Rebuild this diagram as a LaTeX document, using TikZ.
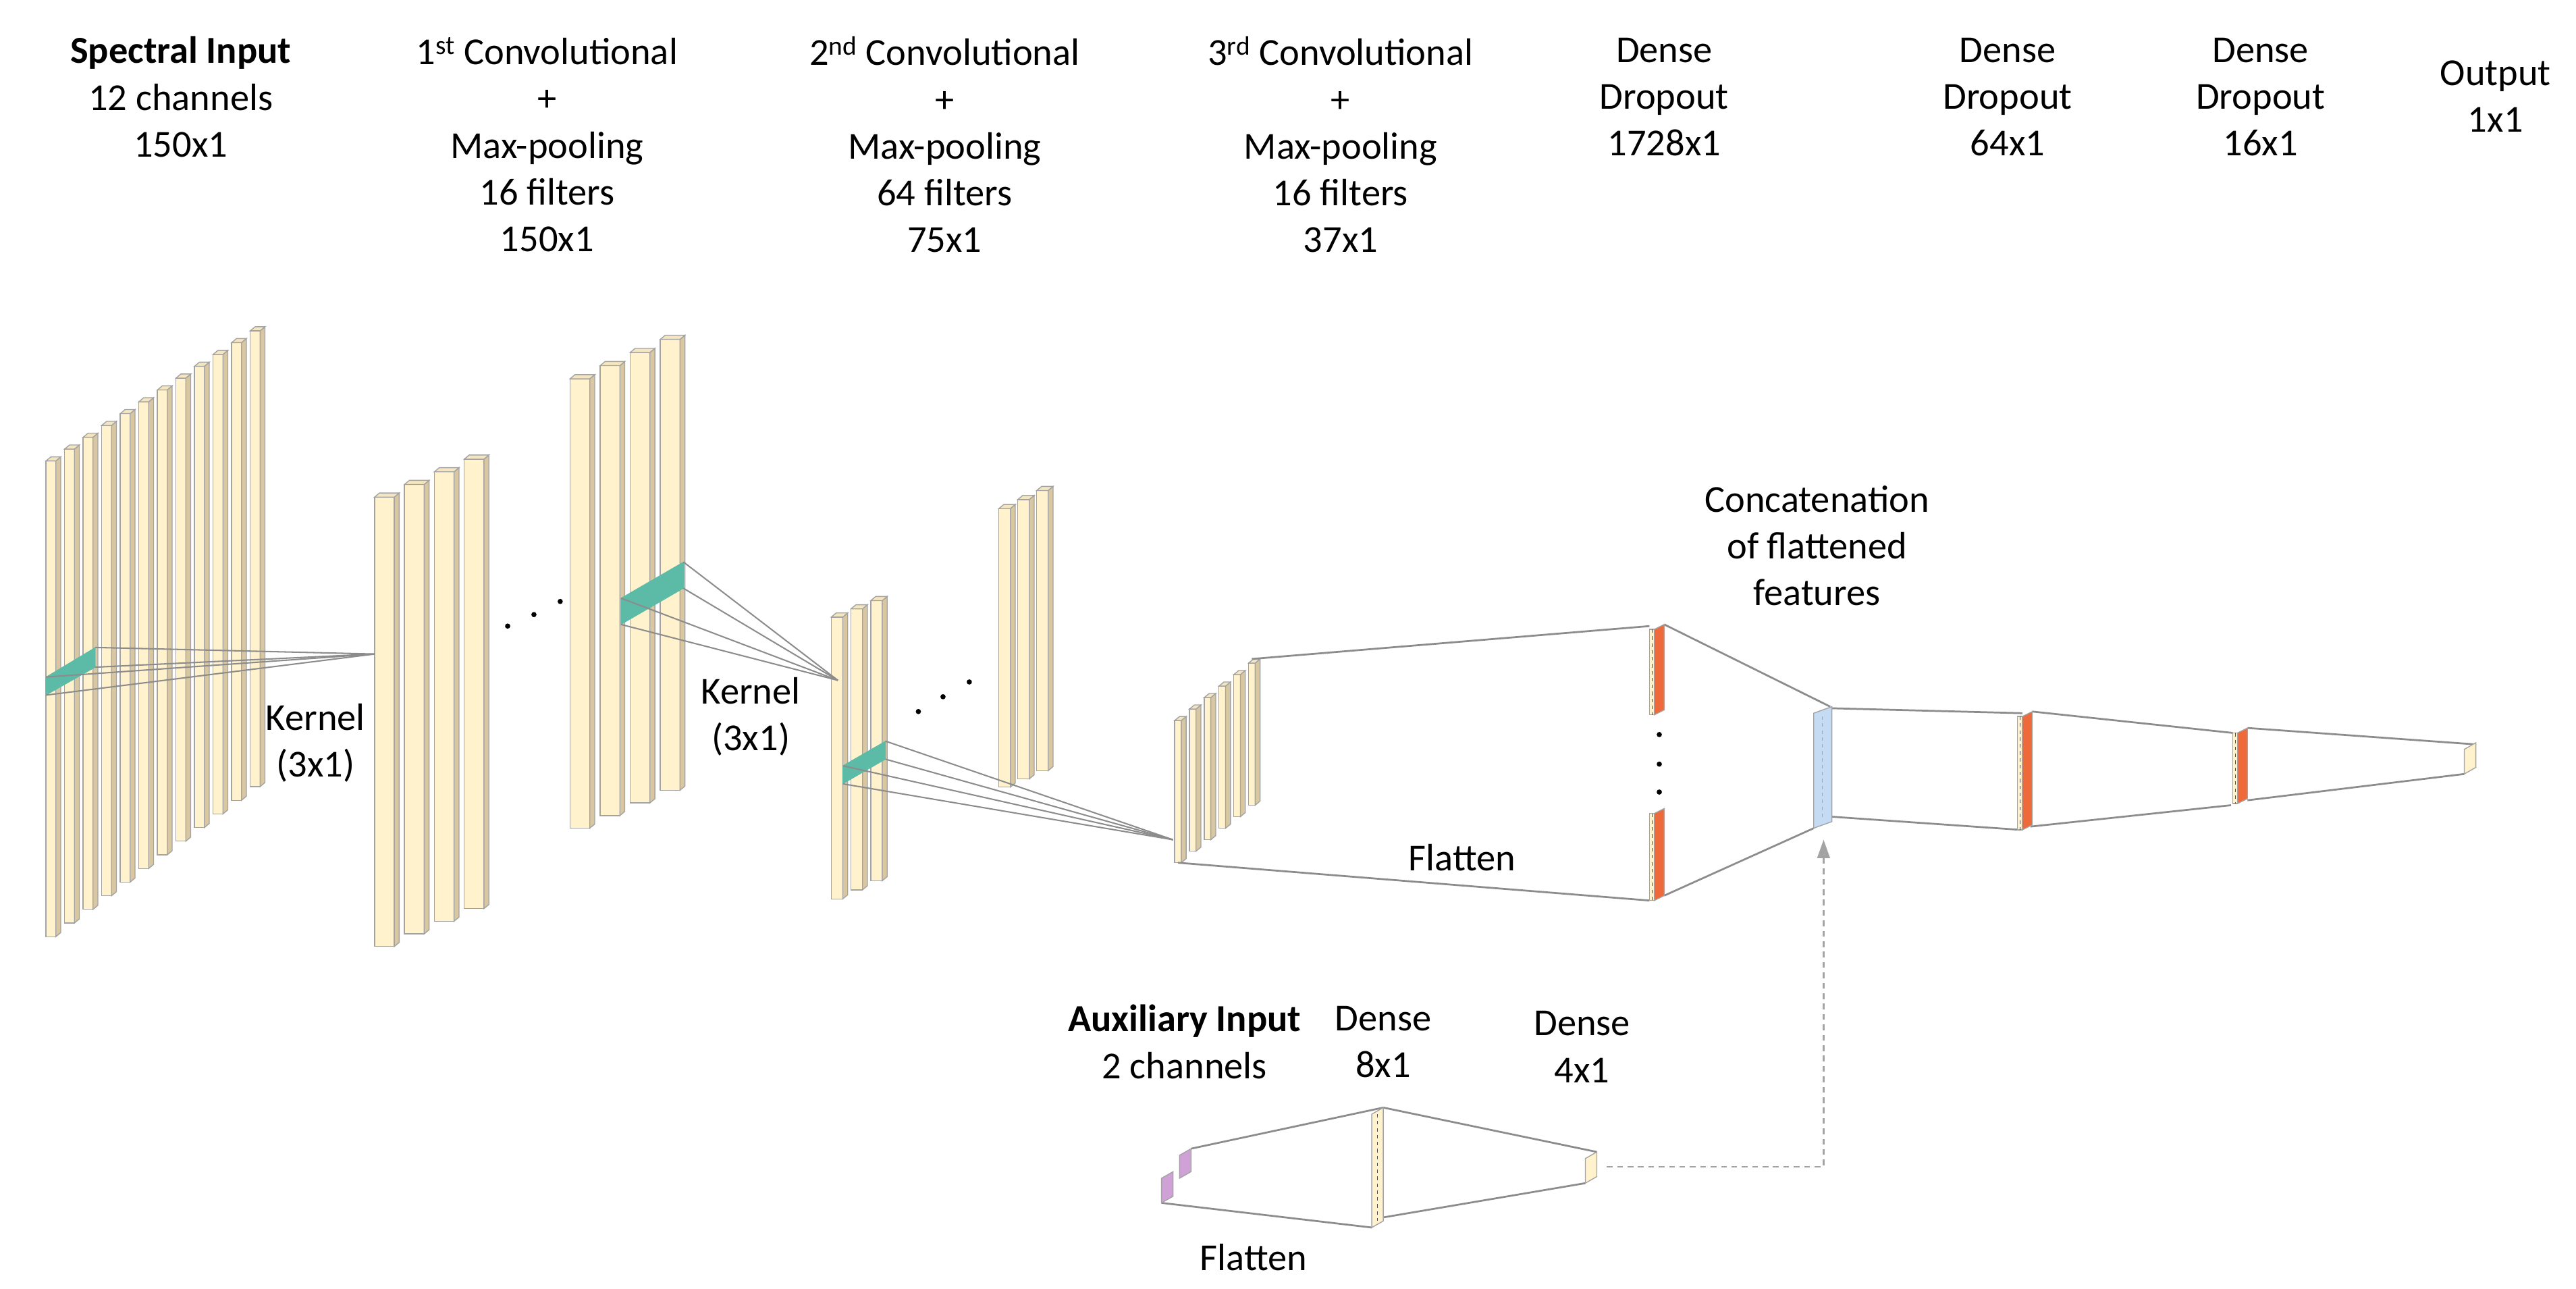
\documentclass[tikz,border=0pt]{standalone}
\usepackage{fontspec}
\setmainfont{Carlito}
\usetikzlibrary{arrows.meta}
\definecolor{cream}{HTML}{FFF2CC}
\definecolor{tan}{HTML}{D8C7A0}
\definecolor{ctop}{HTML}{F4E6C0}
\definecolor{teal}{HTML}{5BBBA6}
\definecolor{red}{HTML}{EE6A3A}
\definecolor{blue}{HTML}{C5DAF3}
\definecolor{purp}{HTML}{CFA1D6}
\definecolor{lg}{HTML}{8C8C8C}
\tikzset{
  lbl/.style={font=\fontsize{33}{40.5}\selectfont, align=center, inner sep=0pt},
  conn/.style={draw=lg, line width=1.6pt},
  edge/.style={draw=lg!80, line width=0.8pt},
  dot/.style={circle, fill=black, inner sep=0pt, minimum size=4.5pt},
}
\newcommand\nnbar[4]{% x top bot w
  \pgfmathsetmacro\xa{#1}\pgfmathsetmacro\xb{#1+#4-3}\pgfmathsetmacro\xc{#1+#4}
  \pgfmathsetmacro\ya{#2}\pgfmathsetmacro\yb{#2+2.5}\pgfmathsetmacro\yc{#3-2.5}\pgfmathsetmacro\yd{#3}
  \filldraw[edge, fill=cream] (\xa,\yb) rectangle (\xb,\yd);
  \filldraw[edge, fill=tan] (\xb,\yb) -- (\xc,\ya) -- (\xc,\yc) -- (\xb,\yd) -- cycle;
  \filldraw[edge, fill=ctop] (\xa,\yb) -- (#1+3,\ya) -- (\xc,\ya) -- (\xb,\yb) -- cycle;
}
\newcommand\slab[4]{% x top bot colour
  \pgfmathsetmacro\xa{#1-3}\pgfmathsetmacro\xb{#1+6}
  \pgfmathsetmacro\yb{#2+3}\pgfmathsetmacro\yc{#3-3}
  \filldraw[edge, fill=cream] (\xa,\yb) rectangle (#1,#3);
  \draw[black!70, dashed, line width=0.5pt] (#1-1.5,\yb) -- (#1-1.5,#3);
  \filldraw[edge, fill=#4] (#1,\yb) -- (\xb,#2) -- (\xb,\yc) -- (#1,#3) -- cycle;
}
\newcommand\pgram[6]{% x1 x2 top bot colour extra
  \filldraw[edge, fill=#5] (#1,#3+4) -- (#2,#3) -- (#2,#4-4) -- (#1,#4) -- cycle;
  #6
}
\begin{document}
\begin{tikzpicture}[x=0.05cm, y=-0.05cm]
\useasboundingbox (0,0) rectangle (1568,784);

% ---------- bars ----------
\foreach \i in {0,...,11}{ \nnbar{28+\i*11.3}{278-\i*7.2}{570-\i*8.3}{9} }
\foreach \i in {0,...,3}{ \nnbar{228+\i*18.2}{300-\i*7.7}{576-\i*7.7}{15} }
\foreach \i in {0,...,3}{ \nnbar{347+\i*18.3}{228-\i*8}{504-\i*7.7}{15} }
\foreach \i in {0,...,2}{ \nnbar{506+\i*12}{373-\i*5}{547-\i*5.5}{10} }
\foreach \i in {0,...,2}{ \nnbar{608+\i*11.5}{307-\i*5.5}{479-\i*5}{10} }
\foreach \i in {0,...,5}{ \nnbar{715+\i*9}{436-\i*7}{525-\i*7}{7} }

% ---------- kernels ----------
\filldraw[teal, draw=teal] (28,412) coordinate (k1a) -- (58,394) coordinate (k1b) -- (58,406) coordinate (k1c) -- (28,423) coordinate (k1d) -- cycle;
\coordinate (ap1) at (228,398);
\foreach \p in {k1a,k1b,k1c,k1d}{ \draw[conn, line width=1.2pt] (\p) -- (ap1); }

\filldraw[teal, draw=teal] (378,364) coordinate (k2a) -- (416,342) coordinate (k2b) -- (416,358) coordinate (k2c) -- (378,380) coordinate (k2d) -- cycle;
\coordinate (ap2) at (510,414);
\foreach \p in {k2a,k2b,k2c,k2d}{ \draw[conn, line width=1.2pt] (\p) -- (ap2); }

\filldraw[teal, draw=teal] (513,466) coordinate (k3a) -- (539,451) coordinate (k3b) -- (539,462) coordinate (k3c) -- (513,477) coordinate (k3d) -- cycle;
\coordinate (ap3) at (714,511);
\foreach \p in {k3a,k3b,k3c,k3d}{ \draw[conn, line width=1.2pt] (\p) -- (ap3); }

% dots
\node[dot] (d1) at (309,381) {}; \node[dot] (d2) at (325,374) {}; \node[dot] (d3) at (341,366) {};
\node[dot] (d4) at (559,433) {}; \node[dot] (d5) at (574,424) {}; \node[dot] (d6) at (590,415) {};
\node[dot] (d7) at (1010,447) {}; \node[dot] (d8) at (1010,465) {}; \node[dot] (d9) at (1010,482) {};

% ---------- dense part ----------
\coordinate (c3t) at (762,401); \coordinate (c3b) at (717,525);
\coordinate (d1tl) at (1004,381); \coordinate (d1bl) at (1004,548);
\coordinate (d1tr) at (1013,380); \coordinate (d1br) at (1013,545);
\coordinate (cct) at (1114,430); \coordinate (ccb) at (1104,504);
\coordinate (cctr) at (1115,431); \coordinate (ccbr) at (1115,497);
\coordinate (d2tl) at (1231,434); \coordinate (d2bl) at (1230,505);
\coordinate (d2tr) at (1237,433); \coordinate (d2br) at (1236,503);
\coordinate (d3tl) at (1359,446); \coordinate (d3bl) at (1358,490);
\coordinate (d3tr) at (1368,443); \coordinate (d3br) at (1368,487);
\coordinate (ot) at (1507,453); \coordinate (ob) at (1500,471);
\draw[conn] (c3t) -- (d1tl); \draw[conn] (c3b) -- (d1bl);
\draw[conn] (d1tr) -- (cct); \draw[conn] (d1br) -- (ccb);
\draw[conn] (cctr) -- (d2tl); \draw[conn] (ccbr) -- (d2bl);
\draw[conn] (d2tr) -- (d3tl); \draw[conn] (d2br) -- (d3bl);
\draw[conn] (d3tr) -- (ot); \draw[conn] (d3br) -- (ob);

\slab{1007}{380}{435}{red}
\slab{1007}{492}{548}{red}
\slab{1231}{433}{505}{red}
\slab{1362}{443}{489}{red}
\pgram{1104}{1115}{430}{504}{blue}{\draw[blue!50!black!60, dashed, line width=0.5pt] (1109,436) -- (1109,498);}
\pgram{1500}{1507}{452}{471}{cream}{}

% ---------- auxiliary ----------
\coordinate (p1t) at (725,699); \coordinate (p2b) at (707,732);
\coordinate (a8t) at (842,674); \coordinate (a8bl) at (835,747); \coordinate (a8br) at (841,741);
\coordinate (a4t) at (972,701); \coordinate (a4b) at (965,720);
\draw[conn] (p1t) -- (a8t); \draw[conn] (p2b) -- (a8bl);
\draw[conn] (a8t) -- (a4t); \draw[conn] (a8br) -- (a4b);
\pgram{718}{725}{699}{717}{purp}{}
\pgram{707}{714}{713}{732}{purp}{}
\pgram{835}{842}{674}{747}{cream}{\draw[black!70, dashed, line width=0.5pt] (838.5,678) -- (838.5,743);}
\pgram{965}{972}{701}{720}{cream}{}
\coordinate (dsS) at (978,710); \coordinate (dsC) at (1110,710); \coordinate (dsE) at (1110,511);
\draw[draw=lg!80, line width=1.3pt, dash pattern=on 5pt off 4pt, -{Triangle[length=16pt,width=11pt,fill=lg!80]}] (dsS) -- (dsC) -- (dsE);

% ---------- labels ----------
\node[lbl] (t1) at (110,59) {\textbf{Spectral Input}\\12 channels\\150x1};
\node[lbl] (t2) at (333,88) {1\textsuperscript{st} Convolutional\\+\\Max-pooling\\16 filters\\150x1};
\node[lbl] (t3) at (575,88) {2\textsuperscript{nd} Convolutional\\+\\Max-pooling\\64 filters\\75x1};
\node[lbl] (t4) at (816,88) {3\textsuperscript{rd} Convolutional\\+\\Max-pooling\\16 filters\\37x1};
\node[lbl] (t5) at (1013,59) {Dense\\Dropout\\1728x1};
\node[lbl] (t6) at (1222,59) {Dense\\Dropout\\64x1};
\node[lbl] (t7) at (1376,59) {Dense\\Dropout\\16x1};
\node[lbl] (t8) at (1519,58.5) {Output\\1x1};
\node[lbl] (t9) at (1106,332) {Concatenation\\of flattened\\features};
\node[lbl] (k1) at (192,452) {Kernel\\(3x1)};
\node[lbl] (k2) at (457,436) {Kernel\\(3x1)};
\node[lbl] (f1) at (890,522) {Flatten};
\node[lbl] (ax) at (721,634) {\textbf{Auxiliary Input}\\2 channels};
\node[lbl] (ad8) at (842,634) {Dense\\8x1};
\node[lbl] (ad4) at (963,637) {Dense\\4x1};
\node[lbl] (f2) at (763,765) {Flatten};
\end{tikzpicture}
\end{document}
